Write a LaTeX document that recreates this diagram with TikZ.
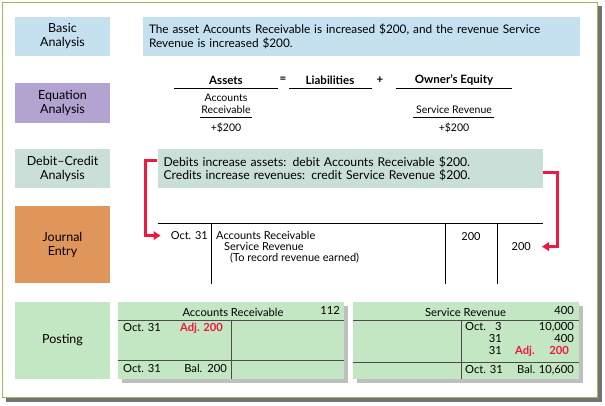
\documentclass[tikz,border=0pt]{standalone}
\usepackage{fontspec}
\setmainfont{Lato}
\usetikzlibrary{arrows.meta,calc}
\newcommand\myfs[2]{\fontsize{#1}{#2}\selectfont}
\definecolor{blueb}{HTML}{C5E0EF}
\definecolor{purp}{HTML}{B3A3D0}
\definecolor{dcg}{HTML}{CADFD7}
\definecolor{orng}{HTML}{E0955A}
\definecolor{grn}{HTML}{C3E6C3}
\definecolor{redc}{HTML}{EE1840}
\definecolor{frm}{HTML}{9BBB59}
\begin{document}
\begin{tikzpicture}[x=1pt,y=-1pt,
  lbl/.style={minimum width=95pt,inner sep=0pt,align=center,font=\myfs{12.5}{14}},
  jtxt/.style={inner sep=0pt,font=\myfs{11}{12}},
  ttxt/.style={inner sep=0pt,font=\myfs{11.2}{12}},
  etxt/.style={inner sep=0pt,align=center,font=\myfs{10.5}{12.5}},
  eqh/.style={inner sep=0pt,font=\bfseries\myfs{11.5}{12}},
  adj/.style={inner sep=0pt,text=redc,font=\bfseries\myfs{11.2}{12}},
  redarrow/.style={draw=redc,line width=2.8pt,-{Triangle[length=7pt,width=8.5pt]}},
  tline/.style={draw=black!70,line width=0.8pt},
  jline/.style={draw=black,line width=0.7pt}
]
\useasboundingbox (0,0) rectangle (605,405);
\fill[black!55] (6,6) rectangle (601.5,401.5);
\filldraw[fill=white,draw=frm,line width=1.3pt] (2.5,2.5) rectangle (597.5,397.5);

% left column labels
\node[lbl,fill=blueb,minimum height=39pt] (ba) at (62.5,36.5) {Basic\\Analysis};
\node[lbl,fill=purp,minimum height=40pt] (ea) at (62.5,103) {Equation\\Analysis};
\node[lbl,fill=dcg,minimum height=39pt] (dc) at (62.5,168.5) {Debit–Credit\\Analysis};
\node[lbl,fill=orng,minimum height=77pt] (je) at (62.5,244.5) {Journal\\Entry};
\node[lbl,fill=grn,minimum height=77pt] (po) at (62.5,340.5) {Posting};

% basic analysis text
\node[fill=blueb,minimum width=437pt,minimum height=39pt,text width=425pt,
      inner xsep=6pt,inner ysep=0pt,align=left,font=\myfs{11.8}{14}] (bt) at (361.5,36.5)
  {The asset Accounts Receivable is increased \$200, and the revenue Service\\Revenue is increased \$200.};

% equation analysis
\node[eqh] (assets) at (226,80) {Assets};
\node[eqh] (eqs) at (283,80) {=};
\node[eqh] (liab) at (330,80) {Liabilities};
\node[eqh] (plus) at (380,80) {+};
\node[eqh] (oe) at (454,80) {Owner’s Equity};
\draw[jline] (174,88) -- (278,88);
\draw[jline] (289,88) -- (372,88);
\draw[jline] (396,88) -- (512,88);
\node[etxt] (acr) at (226,104) {Accounts\\Receivable};
\draw[jline] (200,117) -- (252,117);
\node[etxt] (p1) at (226,128) {+\$200};
\node[etxt] (srv) at (454,110) {Service Revenue};
\draw[jline] (413,117) -- (494,117);
\node[etxt] (p2) at (454,128) {+\$200};

% debit-credit analysis text
\node[fill=dcg,minimum width=385pt,minimum height=39pt,text width=373pt,
      inner xsep=6pt,inner ysep=0pt,align=left,font=\myfs{12.2}{12.5}] (dct) at (350,168.5)
  {Debits increase assets: debit Accounts Receivable \$200.\\Credits increase revenues: credit Service Revenue \$200.};

% journal entry
\draw[jline] (157.5,223) -- (542.5,223);
\draw[jline] (211,223) -- (211,284);
\draw[jline] (445,223) -- (445,284);
\draw[jline] (497,223) -- (497,284);
\node[jtxt,anchor=mid east] (oct) at (208,237) {Oct. 31};
\node[jtxt,anchor=mid west] (ar) at (216,237) {Accounts Receivable};
\node[jtxt,anchor=mid west] (sr) at (224,248) {Service Revenue};
\node[jtxt,anchor=mid west] (rec) at (230,259) {(To record revenue earned)};
\node[jtxt] (d200) at (471,237) {200};
\node[jtxt,anchor=mid east] (c200) at (531,248) {200};

% red arrows
\draw[redarrow] ($(dct.north west)+(0,12)$) -- ++(-12,0) |- ($(oct.west)+(-10,0)$);
\draw[redarrow] ($(dct.north east)+(0,24)$) -- ++(15,0) |- ($(c200.east)+(11,0)$);

% T account: Accounts Receivable
\fill[black!25] (122,306) rectangle (348,383);
\fill[grn] (118,302) rectangle (344,379);
\draw[tline] (118,320) -- (344,320);
\draw[tline] (231,320) -- (231,379);
\draw[tline] (118,360) -- (344,360);
\node[ttxt] (t1t) at (233,312) {Accounts Receivable};
\node[ttxt,anchor=mid east] (t1n) at (340,312) {112};
\node[ttxt,anchor=mid west] (t1a) at (123,329) {Oct. 31};
\node[adj,anchor=mid east] (t1b) at (223,329) {Adj. 200};
\node[ttxt,anchor=mid west] (t1c) at (123,370) {Oct. 31};
\node[ttxt,anchor=mid east] (t1d) at (227,370) {Bal.\hspace{5pt}200};

% T account: Service Revenue
\fill[black!25] (357,306) rectangle (583,383);
\fill[grn] (353,302) rectangle (579,379);
\draw[tline] (353,320) -- (579,320);
\draw[tline] (461,320) -- (461,379);
\draw[tline] (353,362) -- (579,362);
\node[ttxt] (t2t) at (465.5,312) {Service Revenue};
\node[ttxt,anchor=mid east] (t2n) at (574,312) {400};
\node[ttxt,anchor=mid west] (t2a) at (465,328) {Oct.};
\node[ttxt,anchor=mid west] (t2b) at (495,328) {3};
\node[ttxt,anchor=mid east] (t2c) at (574,328) {10,000};
\node[ttxt,anchor=mid east] (t2d) at (502,340) {31};
\node[ttxt,anchor=mid east] (t2e) at (574,340) {400};
\node[ttxt,anchor=mid east] (t2f) at (502,352) {31};
\node[adj,anchor=mid west] (t2g) at (515,352) {Adj.};
\node[adj,anchor=mid east] (t2h) at (569,352) {200};
\node[ttxt,anchor=mid west] (t2i) at (465,371) {Oct. 31};
\node[ttxt,anchor=mid west] (t2j) at (517,371) {Bal.};
\node[ttxt,anchor=mid east] (t2k) at (574,371) {10,600};
\end{tikzpicture}
\end{document}
